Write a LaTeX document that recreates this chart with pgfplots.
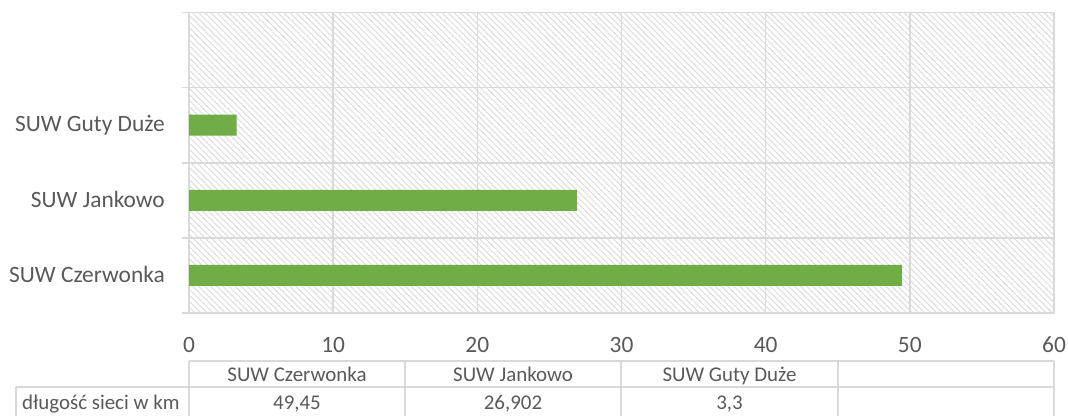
\documentclass[border=0pt]{standalone}
\usepackage{pgfplots}
\pgfplotsset{compat=1.18}
\usepackage{fontspec}
\setmainfont{Carlito}
\usetikzlibrary{patterns.meta}
\definecolor{gridc}{HTML}{D9D9D9}
\definecolor{txt}{HTML}{595959}
\definecolor{barg}{HTML}{70AD47}
\definecolor{hatch}{HTML}{DCDCDC}
\begin{document}
\begin{tikzpicture}
\useasboundingbox (0,0) rectangle (1068bp,416bp);
\begin{axis}[
  at={(189bp,103bp)}, anchor=south west, scale only axis,
  width=865bp, height=300.5bp,
  xbar, bar width=21bp,
  xmin=0, xmax=60, ymin=-0.5, ymax=3.5,
  xtick={0,10,...,60},
  ytick={0,1,2},
  ytick pos=left,
  yticklabels={SUW Czerwonka, SUW Jankowo, SUW Guty Duże},
  extra y ticks={-0.5,0.5,1.5,2.5,3.5},
  extra y tick labels={},
  extra y tick style={grid=major, tick align=outside, major tick length=7bp, tick style={draw=gridc, line width=1.6bp}},
  major tick length=0pt,
  xmajorgrids=true,
  grid style={draw=gridc, line width=1.6bp},
  axis line style={draw=gridc, line width=1.6bp},
  /pgf/number format/assume math mode=true,
  x tick label style={font=\fontsize{23.5}{28}\selectfont, text=txt, anchor=base, inner sep=0pt, yshift=-39bp},
  y tick label style={font=\fontsize{23.5}{28}\selectfont, text=txt, anchor=base east, inner sep=0pt, xshift=-24bp, yshift=-6.7bp},
  axis background/.style={pattern={Lines[angle=-45,distance=4.3bp,line width=1.0bp]}, pattern color=hatch},
]
\addplot[draw=none, fill=barg] coordinates {(49.45,0) (26.902,1) (3.3,2)};
\end{axis}
\draw[gridc, line width=1.6bp] (189bp,55bp) -- (1054bp,55bp);
\draw[gridc, line width=1.6bp] (16bp,29bp) -- (1054bp,29bp);
\draw[gridc, line width=1.6bp] (16bp,29bp) -- (16bp,-3bp);
\foreach \x in {189,405,621,838,1054} \draw[gridc, line width=1.6bp] (\x bp,55bp) -- (\x bp,-3bp);
\begin{scope}[every node/.style={font=\fontsize{21}{25}\selectfont, text=txt, inner sep=0pt}]
\node[anchor=base] at (297bp,35bp) {SUW Czerwonka};
\node[anchor=base] at (513bp,35bp) {SUW Jankowo};
\node[anchor=base] at (729.5bp,35bp) {SUW Guty Duże};
\node[anchor=base] at (297bp,7bp) {49,45};
\node[anchor=base] at (513bp,7bp) {26,902};
\node[anchor=base] at (729.5bp,7bp) {3,3};
\node[anchor=base west] at (22bp,7bp) {długość sieci w km};
\end{scope}
\end{tikzpicture}
\end{document}
